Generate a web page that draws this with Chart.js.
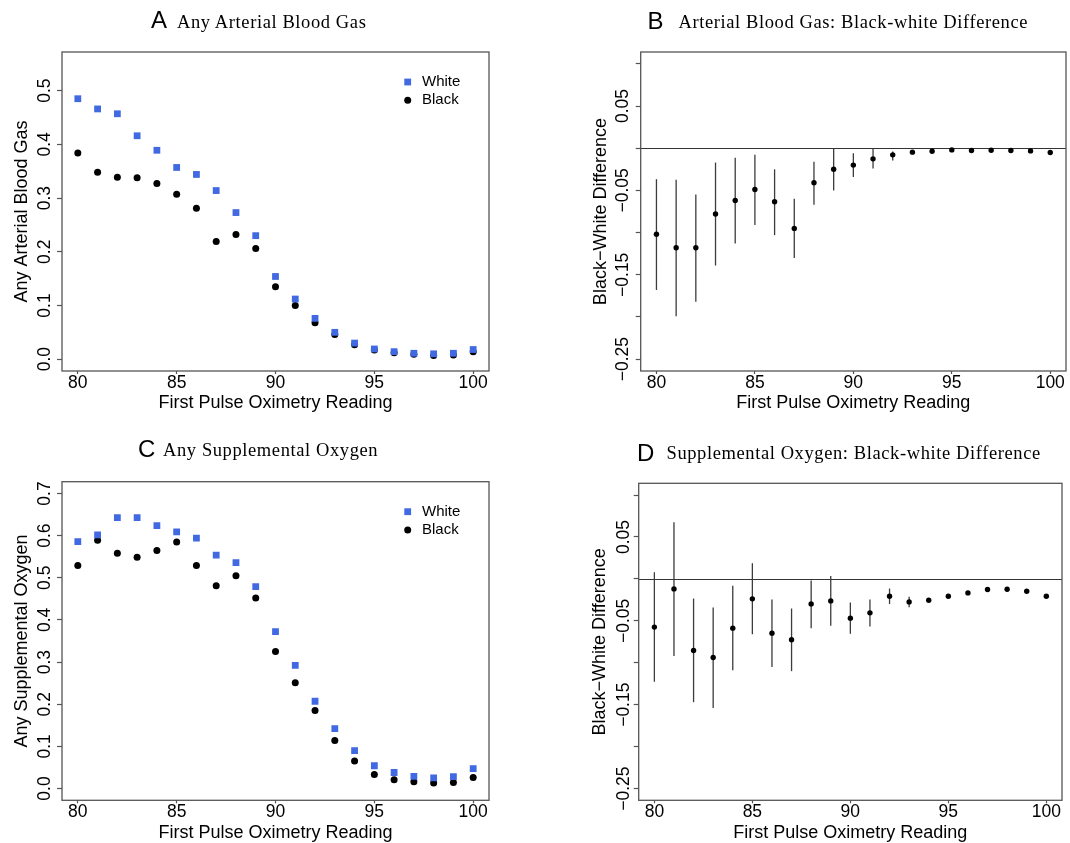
<!DOCTYPE html>
<html>
<head>
<meta charset="utf-8">
<script src="https://cdn.jsdelivr.net/npm/chart.js@4.4.1/dist/chart.umd.min.js"></script>
<style>
  html, body { margin: 0; padding: 0; background: #fff; }
  body { width: 1070px; height: 843px; position: relative; overflow: hidden; }
  .panel { position: absolute; }
  .t { position: absolute; white-space: nowrap; color: #000; line-height: 1; margin: 0; }
  .lt { font-family: "Liberation Sans", Arial, Helvetica, sans-serif; font-size: 24px; }
  .st { font-family: "Liberation Serif", "Times New Roman", serif; font-size: 18.5px; letter-spacing: 0.6px; }
</style>
</head>
<body>
<div class="panel" style="left:0px;top:0px;width:535px;height:421px"><canvas id="cA" width="535" height="421"></canvas></div>
<div class="panel" style="left:535px;top:0px;width:535px;height:421px"><canvas id="cB" width="535" height="421"></canvas></div>
<div class="panel" style="left:0px;top:421px;width:535px;height:422px"><canvas id="cC" width="535" height="422"></canvas></div>
<div class="panel" style="left:535px;top:421px;width:535px;height:422px"><canvas id="cD" width="535" height="422"></canvas></div>

<div class="t lt" style="left:151px;top:8px">A</div>
<div class="t st" style="left:177px;top:12.8px">Any Arterial Blood Gas</div>
<div class="t lt" style="left:647.5px;top:9px">B</div>
<div class="t st" style="left:678.5px;top:12.8px">Arterial Blood Gas: Black-white Difference</div>
<div class="t lt" style="left:138px;top:437px">C</div>
<div class="t st" style="left:163px;top:441.2px">Any Supplemental Oxygen</div>
<div class="t lt" style="left:637px;top:441px">D</div>
<div class="t st" style="left:666.5px;top:443.8px">Supplemental Oxygen: Black-white Difference</div>

<script>
// ---------------- DATA ----------------
const readings = [80,81,82,83,84,85,86,87,88,89,90,91,92,93,94,95,96,97,98,99,100];

const abgWhite = [0.485,0.466,0.457,0.416,0.389,0.357,0.344,0.314,0.273,0.230,0.154,0.112,0.076,0.050,0.030,0.019,0.014,0.011,0.010,0.011,0.018];
const abgBlack = [0.384,0.348,0.339,0.338,0.327,0.307,0.281,0.219,0.232,0.206,0.135,0.100,0.068,0.046,0.027,0.017,0.012,0.009,0.007,0.008,0.014];

const o2White = [0.586,0.602,0.643,0.643,0.624,0.609,0.594,0.554,0.536,0.479,0.372,0.292,0.207,0.142,0.090,0.054,0.038,0.029,0.025,0.028,0.047];
const o2Black = [0.529,0.589,0.558,0.549,0.565,0.585,0.529,0.481,0.505,0.452,0.325,0.251,0.185,0.114,0.065,0.033,0.021,0.016,0.013,0.014,0.026];

const abgDiff   = [-0.102,-0.118,-0.118,-0.078,-0.062,-0.049,-0.0635,-0.095,-0.041,-0.025,-0.020,-0.0126,-0.0079,-0.0047,-0.0036,-0.0020,-0.0028,-0.0024,-0.0028,-0.0032,-0.0051];
const abgDiffLo = [-0.168,-0.199,-0.182,-0.139,-0.113,-0.091,-0.103,-0.130,-0.067,-0.050,-0.034,-0.024,-0.0146,-0.0065,-0.0050,-0.0032,-0.0040,-0.0036,-0.0040,-0.0045,-0.0066];
const abgDiffHi = [-0.0367,-0.0375,-0.055,-0.017,-0.0114,-0.0079,-0.025,-0.060,-0.016,0.000,-0.006,-0.001,-0.004,-0.0030,-0.0022,-0.0008,-0.0016,-0.0012,-0.0016,-0.0019,-0.0036];

const o2Diff   = [-0.0575,-0.0119,-0.0853,-0.0937,-0.0587,-0.0238,-0.0647,-0.0726,-0.0298,-0.0262,-0.0468,-0.0405,-0.0206,-0.0274,-0.0254,-0.0206,-0.0167,-0.0127,-0.0123,-0.0147,-0.0206];
const o2DiffLo = [-0.1226,-0.092,-0.147,-0.154,-0.109,-0.066,-0.105,-0.110,-0.0587,-0.056,-0.0655,-0.0567,-0.030,-0.0337,-0.0276,-0.0224,-0.0182,-0.0142,-0.0138,-0.0163,-0.0226];
const o2DiffHi = [0.008,0.0675,-0.0234,-0.034,-0.0083,0.0187,-0.0246,-0.0353,-0.002,0.0036,-0.028,-0.0246,-0.0115,-0.0214,-0.0232,-0.0188,-0.0152,-0.0112,-0.0108,-0.0131,-0.0186];

const xTicks = [80, 85, 90, 95, 100];
const abgTicks = [0, 0.1, 0.2, 0.3, 0.4, 0.5];
const abgTickLabels = ['0.0','0.1','0.2','0.3','0.4','0.5'];
const o2Ticks = [0, 0.1, 0.2, 0.3, 0.4, 0.5, 0.6, 0.7];
const o2TickLabels = ['0.0','0.1','0.2','0.3','0.4','0.5','0.6','0.7'];
const diffTicks = [-0.25, -0.20, -0.15, -0.10, -0.05, 0, 0.05, 0.10];
const diffTickLabels = ['\u22120.25','','\u22120.15','','\u22120.05','','0.05',''];

const legendLabels = ['White', 'Black'];
const xTitle = 'First Pulse Oximetry Reading';

// ---------------- STYLE ----------------
const SANS = '"Liberation Sans", Arial, Helvetica, sans-serif';
const BLUE = '#4169E1';
const FRAME = '#555555';

function pts(ys) { return readings.map((x, i) => ({x: x, y: ys[i]})); }

function makeChart(id, cfg) {
  const plugin = {
    id: 'frame_' + id,
    beforeDatasetsDraw(chart) {
      const {ctx, chartArea: a, scales: {x, y}} = chart;
      ctx.save();
      if (cfg.zeroLine) {
        const py = Math.round(y.getPixelForValue(0)) + 0.5;
        ctx.strokeStyle = '#333';
        ctx.lineWidth = 1.2;
        ctx.beginPath(); ctx.moveTo(a.left, py); ctx.lineTo(a.right, py); ctx.stroke();
      }
      if (cfg.lo) {
        ctx.strokeStyle = '#3c3c3c';
        ctx.lineWidth = 1.3;
        for (let i = 0; i < readings.length; i++) {
          const px = x.getPixelForValue(readings[i]);
          ctx.beginPath();
          ctx.moveTo(px, y.getPixelForValue(cfg.lo[i]));
          ctx.lineTo(px, y.getPixelForValue(cfg.hi[i]));
          ctx.stroke();
        }
      }
      ctx.restore();
    },
    afterDraw(chart) {
      const {ctx, chartArea: a, scales: {y}} = chart;
      ctx.save();
      // box
      ctx.strokeStyle = FRAME;
      ctx.lineWidth = 1.3;
      ctx.strokeRect(a.left, a.top, a.right - a.left, a.bottom - a.top);
      // rotated y tick labels
      ctx.fillStyle = '#000';
      ctx.font = '17.5px ' + SANS;
      ctx.textAlign = 'center';
      ctx.textBaseline = 'middle';
      cfg.yTicks.forEach((v, i) => {
        const lab = cfg.yLabels[i];
        if (!lab) return;
        const py = y.getPixelForValue(v);
        ctx.save();
        ctx.translate(cfg.yLabelX, py);
        ctx.rotate(-Math.PI / 2);
        ctx.fillText(lab, 0, 0);
        ctx.restore();
      });
      // legend
      if (cfg.legend) {
        const lx = a.left + 345.7;
        const ly1 = a.top + 30, ly2 = a.top + 48.3;
        ctx.fillStyle = BLUE;
        ctx.fillRect(lx - 3.4, ly1 - 3.4, 6.8, 6.8);
        ctx.fillStyle = '#000';
        ctx.beginPath(); ctx.arc(lx, ly2, 3.5, 0, Math.PI * 2); ctx.fill();
        ctx.font = '15px ' + SANS;
        ctx.textAlign = 'left';
        ctx.textBaseline = 'middle';
        ctx.fillText(legendLabels[0], lx + 14.3, ly1);
        ctx.fillText(legendLabels[1], lx + 14.3, ly2);
      }
      ctx.restore();
    }
  };

  return new Chart(document.getElementById(id), {
    type: 'scatter',
    data: { datasets: cfg.datasets },
    options: {
      responsive: false,
      animation: false,
      events: [],
      devicePixelRatio: 1,
      layout: { padding: { left: 0, top: cfg.padTop, right: cfg.padRight, bottom: 0 } },
      plugins: { legend: { display: false }, tooltip: { enabled: false }, title: { display: false } },
      scales: {
        x: {
          type: 'linear', position: 'bottom', min: 79.2, max: 100.8,
          afterBuildTicks: s => { s.ticks = xTicks.map(v => ({value: v})); },
          ticks: { font: { family: SANS, size: 17.5, lineHeight: 1 }, color: '#000', padding: 0, autoSkip: false, maxRotation: 0, minRotation: 0 },
          grid: { display: true, drawOnChartArea: false, drawTicks: true, tickLength: 3, tickColor: FRAME, tickWidth: 1.2 },
          border: { display: false },
          title: { display: true, text: xTitle, color: '#000', font: { family: SANS, size: 18, lineHeight: 1 }, padding: { top: 0, bottom: cfg.xTitlePad } },
          afterFit: s => { s.height = cfg.xH; }
        },
        y: {
          type: 'linear', position: 'left', min: cfg.yMin, max: cfg.yMax,
          afterBuildTicks: s => { s.ticks = cfg.yTicks.map(v => ({value: v})); },
          ticks: { display: false },
          grid: { display: true, drawOnChartArea: false, drawTicks: true, tickLength: 5, tickColor: FRAME, tickWidth: 1.2 },
          border: { display: false },
          title: { display: true, text: cfg.yTitle, color: '#000', font: { family: SANS, size: 18, lineHeight: 1.2 }, padding: { top: cfg.yTitlePad, bottom: 0 } },
          afterFit: s => { s.width = cfg.yW; }
        }
      }
    },
    plugins: [plugin]
  });
}

function groupSets(white, black) {
  return [
    { label: legendLabels[0], data: pts(white), pointStyle: 'rect', pointRadius: 4.8, backgroundColor: BLUE, borderWidth: 0 },
    { label: legendLabels[1], data: pts(black), pointStyle: 'circle', pointRadius: 3.5, backgroundColor: '#000', borderWidth: 0 }
  ];
}
function diffSets(d) {
  return [{ label: 'Black\u2212White Difference', data: pts(d), pointStyle: 'circle', pointRadius: 2.7, backgroundColor: '#000', borderWidth: 0 }];
}

makeChart('cA', {
  datasets: groupSets(abgWhite, abgBlack),
  yMin: -0.022, yMax: 0.572, yTicks: abgTicks, yLabels: abgTickLabels,
  yTitle: 'Any Arterial Blood Gas', legend: true,
  padTop: 52, padRight: 46, yW: 62, xH: 50, xTitlePad: 8.5, yTitlePad: 11.4, yLabelX: 45.3
});
makeChart('cB', {
  datasets: diffSets(abgDiff), lo: abgDiffLo, hi: abgDiffHi, zeroLine: true,
  yMin: -0.264, yMax: 0.114, yTicks: diffTicks, yLabels: diffTickLabels,
  yTitle: 'Black\u2212White Difference',
  padTop: 52, padRight: 1.7, yW: 105.7, xH: 50, xTitlePad: 8.5, yTitlePad: 55.7, yLabelX: 88.3
});
makeChart('cC', {
  datasets: groupSets(o2White, o2Black),
  yMin: -0.028, yMax: 0.728, yTicks: o2Ticks, yLabels: o2TickLabels,
  yTitle: 'Any Supplemental Oxygen', legend: true,
  padTop: 60.7, padRight: 46, yW: 62, xH: 42.7, xTitlePad: 1.2, yTitlePad: 11.4, yLabelX: 45.3
});
makeChart('cD', {
  datasets: diffSets(o2Diff), lo: o2DiffLo, hi: o2DiffHi, zeroLine: true,
  yMin: -0.264, yMax: 0.114, yTicks: diffTicks, yLabels: diffTickLabels,
  yTitle: 'Black\u2212White Difference',
  padTop: 62.3, padRight: 8, yW: 103.7, xH: 42.7, xTitlePad: 1.2, yTitlePad: 54.2, yLabelX: 89
});
</script>
</body>
</html>
